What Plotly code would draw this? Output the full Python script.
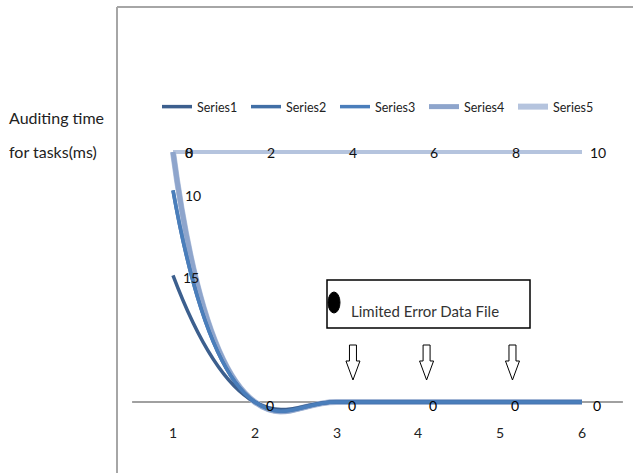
import plotly.graph_objects as go

# ---- data ----
categories = [1, 2, 3, 4, 5, 6]
series_names = ["Series1", "Series2", "Series3", "Series4", "Series5"]
series1 = [15.2, 0, 0, 0, 0, 0]
series2 = [25.4, 0, 0, 0, 0, 0]
series3 = [25.4, 0, 0, 0, 0, 0]
series4 = [30, 0, 0, 0, 0, 0]
series5 = [30, 0, 0, 0, 0, 0]
top_line = [30, 30, 30, 30, 30, 30]
top_labels = ["0", "2", "4", "6", "8", "10"]
first_labels = {"Series1": "15", "Series2": "10"}
zero_labels = ["0", "0", "0", "0", "0"]
category_labels = ["1", "2", "3", "4", "5", "6"]
arrow_positions = [3.2, 4.1, 5.15]
box_text = "Limited Error Data File"
y_title = ["Auditing time", "for tasks(ms)"]

colors = ["#3C5F8E", "#416FA6", "#4A7EBB", "#8EA5CC", "#B5C4DE"]
widths = [3.5, 3.5, 3.5, 5, 6]
draw_order = [4, 3, 0, 1, 2]  # wide light series underneath

W, H = 633, 473
FONT = "Lato, 'Liberation Sans Narrow', 'DejaVu Sans', sans-serif"

# axis mapping (plot area = whole page)
px_per_cat = 81.8
x0_px = 173 - px_per_cat  # pixel of x=0
px_per_unit = 250 / 30.0
y0_px = 402  # pixel of y=0
x_range = [(0 - x0_px) / px_per_cat, (W - x0_px) / px_per_cat]
y_range = [-(H - y0_px) / px_per_unit, y0_px / px_per_unit]


def xpx(v):
    return x0_px + v * px_per_cat


def px(x):
    return x / W


def py(y):
    return 1 - y / H


fig = go.Figure()

# top horizontal line
fig.add_trace(go.Scatter(x=categories, y=top_line, mode="lines",
                         line=dict(color="#B5C4DE", width=4),
                         showlegend=False, hoverinfo="skip"))

all_series = [series1, series2, series3, series4, series5]
for i in draw_order:
    fig.add_trace(go.Scatter(x=categories, y=all_series[i], mode="lines",
                             name=series_names[i], legendrank=i + 1,
                             line=dict(color=colors[i], width=widths[i],
                                       shape="spline", smoothing=1.3)))

annotations = []
lab_font = dict(family=FONT, size=14, color="#111111")
for cx, t in zip(categories, top_labels):
    annotations.append(dict(x=cx, y=top_line[0], text=t, showarrow=False,
                            xshift=16, font=lab_font))
annotations.append(dict(x=categories[0], y=top_line[0], text="8", showarrow=False,
                        xshift=16, font=lab_font))
annotations.append(dict(x=categories[0], y=series2[0], text=first_labels["Series2"],
                        showarrow=False, xshift=20, yshift=-5, font=lab_font))
annotations.append(dict(x=categories[0], y=series1[0], text=first_labels["Series1"],
                        showarrow=False, xshift=18, yshift=-2, font=lab_font))
for cx, t in zip(categories[1:], zero_labels):
    annotations.append(dict(x=cx, y=0, text=t, showarrow=False, xshift=15, yshift=-3,
                            font=dict(family=FONT, size=14, color="#000000")))
for cx, t in zip(categories, category_labels):
    annotations.append(dict(x=cx, y=0, text=t, showarrow=False, yshift=-30,
                            font=dict(family=FONT, size=14, color="#222222")))
# y title
annotations.append(dict(xref="paper", yref="paper", x=px(7), y=py(117), text=y_title[0],
                        showarrow=False, xanchor="left", yanchor="middle",
                        font=dict(family=FONT, size=16, color="#222222")))
annotations.append(dict(xref="paper", yref="paper", x=px(7), y=py(151), text=y_title[1],
                        showarrow=False, xanchor="left", yanchor="middle",
                        font=dict(family=FONT, size=16, color="#222222")))
# box text
annotations.append(dict(xref="paper", yref="paper", x=px(349), y=py(311), text=box_text,
                        showarrow=False, xanchor="left", yanchor="middle",
                        font=dict(family=FONT, size=15, color="#333333")))

shapes = []
# frame lines
shapes.append(dict(type="line", xref="paper", yref="paper", x0=px(117), x1=px(640),
                   y0=py(7), y1=py(7), line=dict(color="#A6A6A6", width=2)))
shapes.append(dict(type="line", xref="paper", yref="paper", x0=px(117), x1=px(117),
                   y0=py(7), y1=py(480), line=dict(color="#A6A6A6", width=2)))
# baseline axis
shapes.append(dict(type="line", xref="x", yref="y", x0=0.5, x1=6.5, y0=0, y1=0,
                   line=dict(color="#A0A0A0", width=2), layer="below"))
# box
shapes.append(dict(type="rect", xref="paper", yref="paper", x0=px(327), x1=px(530),
                   y0=py(280), y1=py(328), line=dict(color="#000000", width=1.5),
                   fillcolor="rgba(255,255,255,1)"))
shapes.append(dict(type="circle", xref="paper", yref="paper", x0=px(328), x1=px(340),
                   y0=py(292), y1=py(313), line=dict(color="#000000", width=1),
                   fillcolor="#000000"))
# hollow down arrows
for ax in arrow_positions:
    cxp = xpx(ax)
    top, neck, tip = 345, 361, 380
    sw, hw = 3.5, 7
    pts = [(cxp - sw, top), (cxp + sw, top), (cxp + sw, neck), (cxp + hw, neck),
           (cxp, tip), (cxp - hw, neck), (cxp - sw, neck)]
    path = "M " + " L ".join(f"{px(a):.5f},{py(b):.5f}" for a, b in pts) + " Z"
    shapes.append(dict(type="path", xref="paper", yref="paper", path=path,
                       line=dict(color="#000000", width=1), fillcolor="white"))

fig.update_layout(
    width=W, height=H,
    margin=dict(l=0, r=0, t=0, b=0, pad=0),
    paper_bgcolor="white", plot_bgcolor="white",
    xaxis=dict(range=x_range, visible=False, fixedrange=True),
    yaxis=dict(range=y_range, visible=False, fixedrange=True),
    showlegend=True,
    legend=dict(orientation="h", x=px(157), y=py(107), xanchor="left", yanchor="middle",
                font=dict(family=FONT, size=12.5, color="#222222"),
                entrywidth=44, entrywidthmode="pixels", tracegroupgap=0,
                itemwidth=30, traceorder="normal",
                bgcolor="rgba(0,0,0,0)"),
    annotations=annotations,
    shapes=shapes,
    font=dict(family=FONT),
)

fig.write_html("out.html", config={"displayModeBar": False},
               post_script="document.body.style.margin='0';document.body.style.overflow='hidden';")
